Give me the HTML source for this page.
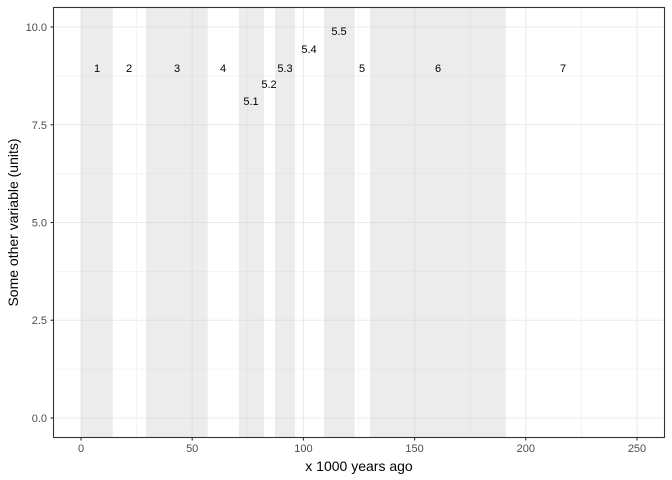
<!DOCTYPE html>
<html><head><style>body{margin:0;background:#fff}svg{display:block}text{font-family:"Liberation Sans",sans-serif}</style></head><body>
<svg width="672" height="480" xmlns="http://www.w3.org/2000/svg">
<rect width="672" height="480" fill="#fff"/>
<g stroke="#ebebeb" stroke-width="0.55">
<line x1="53.5" x2="664.5" y1="369.1" y2="369.1"/><line x1="53.5" x2="664.5" y1="271.4" y2="271.4"/><line x1="53.5" x2="664.5" y1="173.6" y2="173.6"/><line x1="53.5" x2="664.5" y1="75.9" y2="75.9"/>
<line y1="7.5" y2="437.5" x1="136.6" x2="136.6"/><line y1="7.5" y2="437.5" x1="247.8" x2="247.8"/><line y1="7.5" y2="437.5" x1="359" x2="359"/><line y1="7.5" y2="437.5" x1="470.2" x2="470.2"/><line y1="7.5" y2="437.5" x1="581.4" x2="581.4"/>
</g>
<g stroke="#ebebeb" stroke-width="1.1">
<line x1="53.5" x2="664.5" y1="418" y2="418"/><line x1="53.5" x2="664.5" y1="320.25" y2="320.25"/><line x1="53.5" x2="664.5" y1="222.5" y2="222.5"/><line x1="53.5" x2="664.5" y1="124.75" y2="124.75"/><line x1="53.5" x2="664.5" y1="27" y2="27"/>
<line y1="7.5" y2="437.5" x1="81" x2="81"/><line y1="7.5" y2="437.5" x1="192.2" x2="192.2"/><line y1="7.5" y2="437.5" x1="303.4" x2="303.4"/><line y1="7.5" y2="437.5" x1="414.6" x2="414.6"/><line y1="7.5" y2="437.5" x1="525.8" x2="525.8"/><line y1="7.5" y2="437.5" x1="637" x2="637"/>
</g>
<g fill="#c8c8c8" fill-opacity="0.35">
<rect x="81" y="7.5" width="31.7" height="430"/>
<rect x="146" y="7.5" width="61.7" height="430"/>
<rect x="239" y="7.5" width="25" height="430"/>
<rect x="275" y="7.5" width="20" height="430"/>
<rect x="324" y="7.5" width="30.7" height="430"/>
<rect x="370" y="7.5" width="135.7" height="430"/>
</g>
<g font-size="11" fill="#000" text-anchor="middle">
<text x="97" y="72">1</text><text x="129" y="72">2</text><text x="177" y="72">3</text><text x="223" y="72">4</text>
<text x="251" y="105">5.1</text><text x="269" y="88">5.2</text><text x="285" y="72">5.3</text><text x="309" y="53">5.4</text><text x="339" y="35">5.5</text>
<text x="362" y="72">5</text><text x="438" y="72">6</text><text x="563" y="72">7</text>
</g>
<rect x="53.5" y="7.5" width="611" height="430" fill="none" stroke="#333" stroke-width="1.1"/>
<g stroke="#333" stroke-width="1.1">
<line x1="50.5" x2="53.5" y1="418" y2="418"/><line x1="50.5" x2="53.5" y1="320.25" y2="320.25"/><line x1="50.5" x2="53.5" y1="222.5" y2="222.5"/><line x1="50.5" x2="53.5" y1="124.75" y2="124.75"/><line x1="50.5" x2="53.5" y1="27" y2="27"/>
<line y1="437.5" y2="440.5" x1="81" x2="81"/><line y1="437.5" y2="440.5" x1="192.2" x2="192.2"/><line y1="437.5" y2="440.5" x1="303.4" x2="303.4"/><line y1="437.5" y2="440.5" x1="414.6" x2="414.6"/><line y1="437.5" y2="440.5" x1="525.8" x2="525.8"/><line y1="437.5" y2="440.5" x1="637" x2="637"/>
</g>
<g font-size="11" fill="#4d4d4d" text-anchor="end">
<text x="47" y="422">0.0</text><text x="47" y="324">2.5</text><text x="47" y="226.5">5.0</text><text x="47" y="129">7.5</text><text x="47" y="31">10.0</text>
</g>
<g font-size="11" fill="#4d4d4d" text-anchor="middle">
<text x="81" y="452">0</text><text x="192.2" y="452">50</text><text x="303.4" y="452">100</text><text x="414.6" y="452">150</text><text x="525.8" y="452">200</text><text x="637" y="452">250</text>
</g>
<text x="359" y="471" font-size="14" text-anchor="middle" fill="#000">x 1000 years ago</text>
<text transform="translate(18,222.5) rotate(-90)" font-size="14" text-anchor="middle" fill="#000">Some other variable (units)</text>
</svg>
</body></html>
